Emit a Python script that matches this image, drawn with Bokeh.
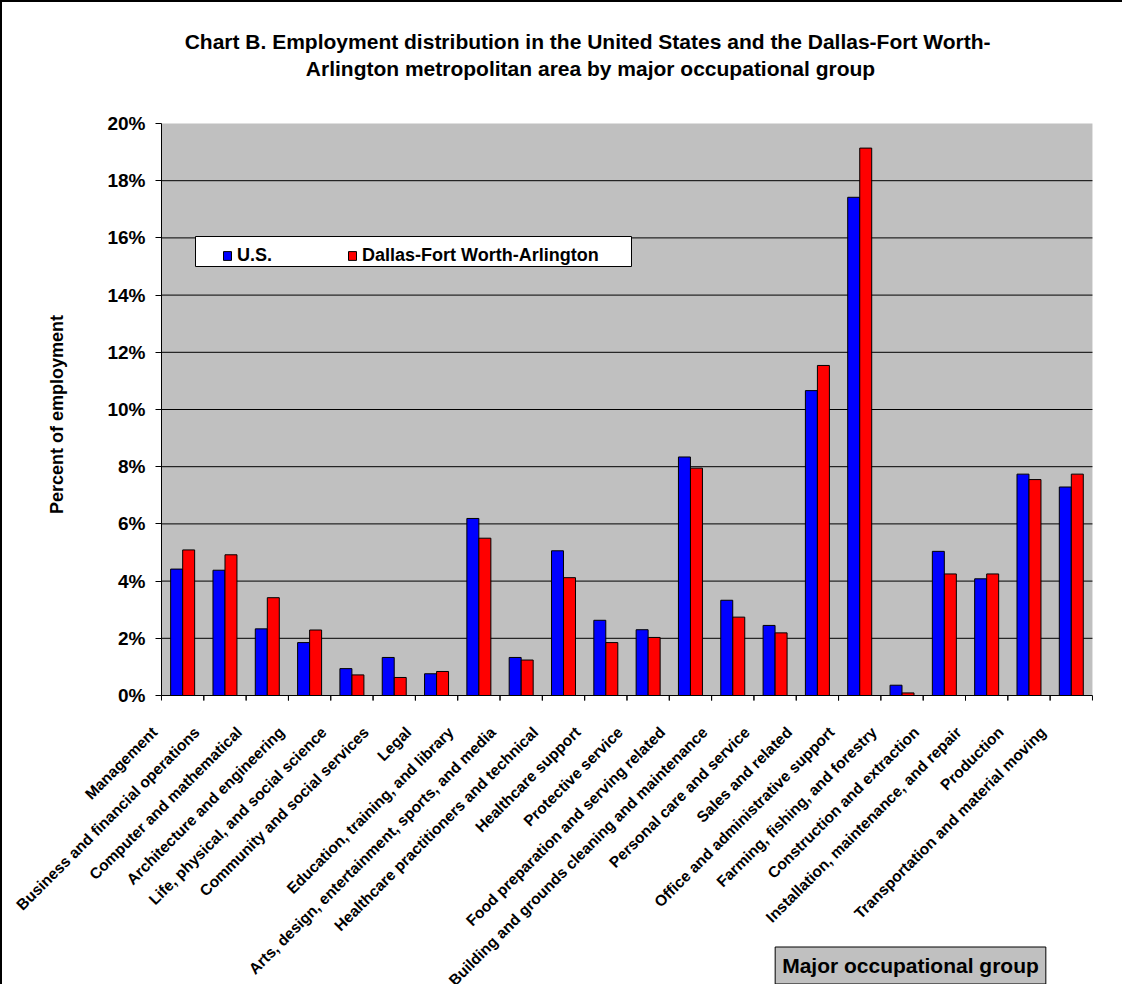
import math
from bokeh.plotting import figure
from bokeh.models import (ColumnDataSource, FactorRange, Range1d, LinearAxis, FixedTicker,
                          PrintfTickFormatter, Legend, LegendItem, Label, BoxAnnotation)
from bokeh.core.properties import value
from bokeh.transform import dodge
from bokeh.embed import file_html
from bokeh.resources import INLINE

# ---------------- data ----------------
categories = [
    "Management",
    "Business and financial operations",
    "Computer and mathematical",
    "Architecture and engineering",
    "Life, physical, and social science",
    "Community and social services",
    "Legal",
    "Education, training, and library",
    "Arts, design, entertainment, sports, and media",
    "Healthcare practitioners and technical",
    "Healthcare support",
    "Protective service",
    "Food preparation and serving related",
    "Building and grounds cleaning and maintenance",
    "Personal care and service",
    "Sales and related",
    "Office and administrative support",
    "Farming, fishing, and forestry",
    "Construction and extraction",
    "Installation, maintenance, and repair",
    "Production",
    "Transportation and material moving",
]
us_values = [4.42, 4.38, 2.33, 1.85, 0.94, 1.33, 0.76, 6.19, 1.33, 5.06, 2.63,
             2.30, 8.34, 3.33, 2.45, 10.66, 17.42, 0.36, 5.04, 4.08, 7.74, 7.29]
dfw_values = [5.09, 4.92, 3.42, 2.29, 0.72, 0.63, 0.84, 5.50, 1.24, 4.12, 1.85,
              2.03, 7.95, 2.74, 2.19, 11.54, 19.14, 0.09, 4.25, 4.25, 7.55, 7.74]
series_names = ["U.S.", "Dallas-Fort Worth-Arlington"]
y_ticks = [0, 2, 4, 6, 8, 10, 12, 14, 16, 18, 20]
grid_ticks = [2, 4, 6, 8, 10, 12, 14, 16, 18]
title_line1 = "Chart B.  Employment distribution in the United States and the Dallas-Fort Worth-"
title_line2 = "Arlington metropolitan area by major occupational group"
y_axis_label = "Percent of employment"
x_axis_label = "Major occupational group"

# ---------------- styling / layout constants ----------------
FONT = "Liberation Sans"
US_COLOR = "#0000FF"
DFW_COLOR = "#FF0000"
PLOT_BG = "#C0C0C0"

H = 984                      # canvas height (page offset: 8px margin + 2px border)
PX_PER_CAT = 931 / 22        # width of one category slot
LEFT_MARGIN_PX = 159         # canvas left -> first category boundary
PX_PER_PCT = 28.6            # vertical scale of the value axis
TOP_GAP_PX = 121             # canvas top -> 20% line
ZERO_TO_BOTTOM_PX = 291      # 0% line -> canvas bottom
Y_MIN, Y_MAX = 0, 20

# empty slots left of the first group leave room for the value axis and the
# slanted labels, which must stay inside the drawing frame
pad_factors = ["pad_a", "pad_b", "pad_c"]
first_edge = len(pad_factors)
last_edge = first_edge + len(categories)
side_pad = LEFT_MARGIN_PX / PX_PER_CAT - first_edge     # added on each side of the range
W = int(round((last_edge + 2 * side_pad) * PX_PER_CAT))

view_start = Y_MIN - ZERO_TO_BOTTOM_PX / PX_PER_PCT
view_end = Y_MAX + TOP_GAP_PX / PX_PER_PCT
tick_len = 5 / PX_PER_PCT
label_dx = -0.5 - 7 / PX_PER_CAT
label_y = -34 / PX_PER_PCT

# ---------------- figure ----------------
p = figure(
    x_range=FactorRange(factors=pad_factors + categories, range_padding=side_pad,
                        range_padding_units="absolute"),
    y_range=Range1d(view_start, view_end),
    width=W, height=H, output_backend="svg", toolbar_location=None,
    x_axis_location=None, y_axis_location=None,
    min_border_left=0, min_border_right=0, min_border_top=0, min_border_bottom=0,
    background_fill_color="white", border_fill_color="white", outline_line_color=None,
)
p.title.visible = False
p.styles = {"border-left": "2px solid black", "border-top": "2px solid black"}
p.xgrid.visible = False
p.ygrid.visible = False

# grey plotting area and horizontal gridlines
p.add_layout(BoxAnnotation(left=first_edge, right=last_edge, bottom=Y_MIN, top=Y_MAX,
                           fill_color=PLOT_BG, fill_alpha=1.0, line_color=None,
                           level="underlay"))
grid_src = ColumnDataSource(data=dict(g=grid_ticks))
p.segment(x0=first_edge, y0="g", x1=last_edge, y1="g", source=grid_src,
          line_color="black", line_width=1)

# value axis, fixed at the left edge of the grey area
yaxis = LinearAxis(
    fixed_location=first_edge, bounds=(Y_MIN, Y_MAX),
    ticker=FixedTicker(ticks=y_ticks), formatter=PrintfTickFormatter(format="%d%%"),
    major_label_text_font=FONT, major_label_text_font_style="bold",
    major_label_text_font_size="19px", major_label_text_color="black",
    major_label_standoff=10, major_tick_out=6, major_tick_in=0,
    minor_tick_out=0, minor_tick_in=0,
    axis_line_color="black", major_tick_line_color="black",
)
p.add_layout(yaxis, "left")
p.add_layout(Label(x=54, y=572, x_units="screen", y_units="screen", text=y_axis_label,
                   angle=math.pi / 2, text_align="center", text_baseline="middle",
                   text_font=FONT, text_font_style="bold", text_font_size="18px",
                   text_color="black"))

# bars
src = ColumnDataSource(data=dict(category=categories, us=us_values, dfw=dfw_values))
r_us = p.vbar(x=dodge("category", -0.142, range=p.x_range), top="us", width=0.283,
              source=src, fill_color=US_COLOR, line_color="black", line_width=1)
r_dfw = p.vbar(x=dodge("category", 0.142, range=p.x_range), top="dfw", width=0.283,
               source=src, fill_color=DFW_COLOR, line_color="black", line_width=1)

# category axis: line, tick marks between groups, slanted labels
p.segment(x0=first_edge, y0=0, x1=last_edge, y1=0, line_color="black", line_width=1)
p.segment(x0=dodge("category", -0.5, range=p.x_range), y0=0,
          x1=dodge("category", -0.5, range=p.x_range), y1=-tick_len,
          source=src, line_color="black", line_width=1)
p.segment(x0=dodge("category", 0.5, range=p.x_range), y0=0,
          x1=dodge("category", 0.5, range=p.x_range), y1=-tick_len,
          source=src, line_color="black", line_width=1)
p.text(x=dodge("category", label_dx, range=p.x_range), y=label_y, text="category",
       source=src, angle=math.pi / 4, text_align="right", text_baseline="middle",
       text_font=value(FONT), text_font_style="bold", text_font_size=value("15.5px"),
       text_color="black")

# series legend in a white box
p.add_layout(BoxAnnotation(left=193, right=629, bottom=720, top=750,
                           left_units="screen", right_units="screen",
                           bottom_units="screen", top_units="screen",
                           fill_color="white", fill_alpha=1.0,
                           line_color="black", line_width=1, line_alpha=1.0))
legend = Legend(
    items=[LegendItem(label=series_names[0], renderers=[r_us]),
           LegendItem(label=series_names[1], renderers=[r_dfw])],
    orientation="horizontal", location=(220, 720), padding=5, margin=0, spacing=75,
    glyph_width=10, glyph_height=11, label_standoff=5,
    label_text_font=FONT, label_text_font_style="bold", label_text_font_size="18px",
    label_text_color="black",
    border_line_color=None, background_fill_alpha=0.0,
)
p.add_layout(legend)

# two-line title
for txt, yy in [(title_line1, 945), (title_line2, 918)]:
    p.add_layout(Label(x=588, y=yy, x_units="screen", y_units="screen", text=txt,
                       text_align="center", text_baseline="alphabetic", text_font=FONT,
                       text_font_style="bold", text_font_size="21px", text_color="black"))

# category axis title in a grey box
p.add_layout(Label(x=908, y=21, x_units="screen", y_units="screen", text=x_axis_label,
                   text_align="center", text_baseline="middle", text_font=FONT,
                   text_font_style="bold", text_font_size="21px", text_color="black",
                   background_fill_color=PLOT_BG, background_fill_alpha=1.0,
                   border_line_color="black", border_line_width=1, padding=7))

open("out.html", "w").write(file_html(p, INLINE))
